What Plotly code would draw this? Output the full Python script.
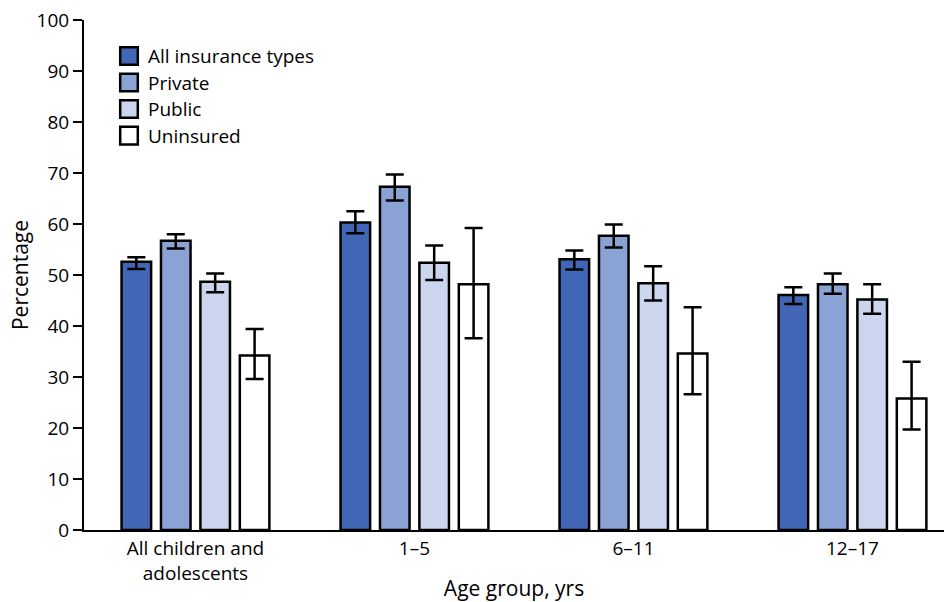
import plotly.graph_objects as go

categories = ["All children and<br>adolescents", "1–5", "6–11", "12–17"]
series_names = ["All insurance types", "Private", "Public", "Uninsured"]
colors = ["#4266b6", "#8aa2d4", "#cbd6ee", "#ffffff"]

values = {
    "All insurance types": [52.6, 60.3, 53.1, 46.1],
    "Private": [56.7, 67.3, 57.7, 48.2],
    "Public": [48.7, 52.4, 48.4, 45.2],
    "Uninsured": [34.2, 48.2, 34.6, 25.8],
}
ci_upper = {
    "All insurance types": [53.5, 62.5, 54.8, 47.6],
    "Private": [58.0, 69.7, 59.9, 50.3],
    "Public": [50.3, 55.8, 51.7, 48.2],
    "Uninsured": [39.4, 59.2, 43.7, 33.0],
}
ci_lower = {
    "All insurance types": [51.2, 58.2, 51.1, 44.3],
    "Private": [55.2, 64.6, 55.4, 46.3],
    "Public": [46.6, 49.0, 45.0, 42.4],
    "Uninsured": [29.6, 37.6, 26.6, 19.7],
}

y_ticks = [0, 10, 20, 30, 40, 50, 60, 70, 80, 90, 100]

FONT = "Open Sans"

fig = go.Figure()
for name, col in zip(series_names, colors):
    v = values[name]
    plus = [u - a for u, a in zip(ci_upper[name], v)]
    minus = [a - l for a, l in zip(v, ci_lower[name])]
    fig.add_trace(go.Bar(
        x=categories, y=v, name=name, showlegend=False,
        marker=dict(color=col, line=dict(color="black", width=2.5)),
        error_y=dict(type="data", symmetric=False, array=plus, arrayminus=minus,
                     color="black", thickness=2.5, width=9),
    ))

# plot area geometry (px) for manual legend
L, R, T, B = 84, 944, 20, 530
W, H = R - L, B - T


def px_x(p):
    return (p - L) / W


def px_y(p):
    return (B - p) / H


shapes = []
annotations = []
row_y = [56, 82.5, 109, 135.6]
for name, col, cy in zip(series_names, colors, row_y):
    shapes.append(dict(type="rect", xref="paper", yref="paper",
                       x0=px_x(120.2), x1=px_x(137.8), y0=px_y(cy + 8.8), y1=px_y(cy - 8.8),
                       fillcolor=col, line=dict(color="black", width=2.5)))
    annotations.append(dict(xref="paper", yref="paper", x=px_x(146), y=px_y(cy),
                            text=name, showarrow=False, xanchor="left", yanchor="middle",
                            font=dict(family=FONT, size=19, color="black")))

fig.update_layout(
    width=944, height=602,
    margin=dict(l=L, r=944 - R, t=T, b=602 - B),
    paper_bgcolor="white", plot_bgcolor="white",
    barmode="group", bargap=0.28, bargroupgap=0.25,
    font=dict(family=FONT, size=19, color="black"),
    shapes=shapes, annotations=annotations,
    showlegend=False,
)
fig.update_xaxes(
    range=[-0.509, 3.418], showline=True, linecolor="black", linewidth=2,
    ticks="", showgrid=False, zeroline=False, automargin=False,
    tickfont=dict(family=FONT, size=19),
    title=dict(text="Age group, yrs", font=dict(family=FONT, size=21), standoff=6),
)
fig.update_yaxes(
    range=[0, 100], tickvals=y_ticks, showline=True, linecolor="black", linewidth=2,
    ticks="outside", ticklen=9, tickwidth=2, tickcolor="black",
    showgrid=False, zeroline=False, automargin=False,
    tickfont=dict(family=FONT, size=19),
    title=dict(text="Percentage", font=dict(family=FONT, size=21), standoff=2),
)

fig.write_html("out.html", config={"displayModeBar": False},
               post_script="document.body.style.margin='0px';document.body.style.overflow='hidden';")
